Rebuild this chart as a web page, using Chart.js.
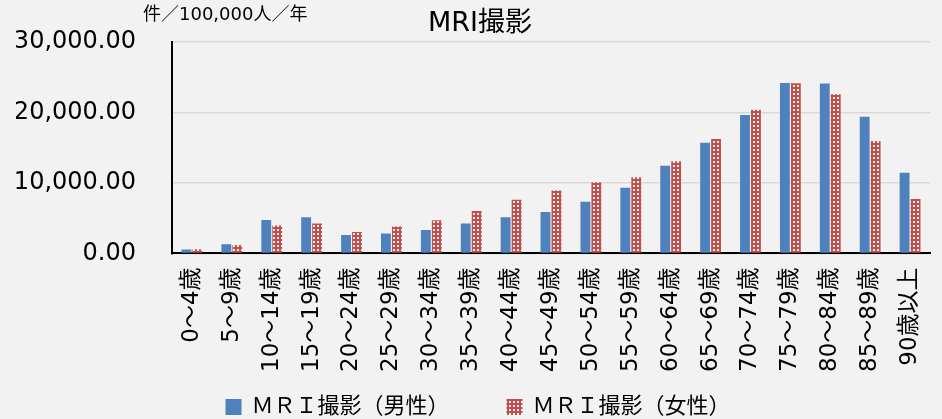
<!DOCTYPE html>
<html>
<head>
<meta charset="utf-8">
<script src="https://cdn.jsdelivr.net/npm/chart.js@4.4.0/dist/chart.umd.min.js"></script>
<style>
    body{margin:0;background:#f2f2f2;}
    canvas{display:block;}
</style>
</head>
<body>
<canvas id="myChart" width="942" height="419"></canvas>
<script>
const ageGroups=['0～4歳','5～9歳','10～14歳','15～19歳','20～24歳','25～29歳','30～34歳','35～39歳','40～44歳','45～49歳','50～54歳','55～59歳','60～64歳','65～69歳','70～74歳','75～79歳','80～84歳','85～89歳','90歳以上'];
const maleValues=[565,1310,4750,5130,2630,2820,3340,4240,5130,5880,7340,9320,12430,15720,19630,24200,24100,19390,11440];
const femaleValues=[610,1215,3950,4240,3050,3810,4700,6020,7630,8940,10110,10830,13080,16240,20380,24150,22600,15960,7710];
const maleLabel='ＭＲＩ撮影（男性）';
const femaleLabel='ＭＲＩ撮影（女性）';
const chartTitle='MRI撮影';
const unitLabel='件／100,000人／年';

const fontFamily="'DejaVu Sans', 'Noto Sans CJK JP', sans-serif";

// red bars have a small white dot grid
function dotPattern(){
    let c=document.createElement('canvas');
    c.width=4;
    c.height=4;
    let p=c.getContext('2d');
    p.fillStyle='#C0504D';
    p.fillRect(0,0,4,4);
    p.fillStyle='rgba(255,255,255,0.9)';
    p.fillRect(1,1,2,2);
    return p.createPattern(c,'repeat');
}

// title, unit text and legend drawn by hand (legend needs a wide gap between items)
const extrasPlugin={
    id:'extras',
    afterDraw(chart){
        let ctx=chart.ctx;
        ctx.save();
        ctx.fillStyle='#000';
        ctx.textBaseline='middle';

        ctx.font='27px '+fontFamily;
        ctx.textAlign='center';
        ctx.fillText(chartTitle,480,24);

        ctx.font='18px '+fontFamily;
        ctx.textAlign='left';
        ctx.fillText(unitLabel,143,15);

        ctx.font='22px '+fontFamily;
        let sets=chart.data.datasets;
        let gap=57;
        let widths=sets.map(ds=>26+ctx.measureText(ds.label).width);
        let total=widths.reduce((a,b)=>a+b,0)+gap*(sets.length-1);
        let x=478-total/2;
        let y=407;
        for(let i=0;i<sets.length;i++){
            ctx.fillStyle=sets[i].backgroundColor;
            ctx.fillRect(x,y-8,16,16);
            ctx.fillStyle='#000';
            ctx.fillText(sets[i].label,x+26,y);
            x+=widths[i]+gap;
        }
        ctx.restore();
    }
};

const ctx=document.getElementById('myChart').getContext('2d');
let chart=new Chart(ctx,{
    type:'bar',
    data:{
        labels:ageGroups,
        datasets:[{
            label:maleLabel,
            data:maleValues,
            backgroundColor:'#4F81BD',
            barPercentage:0.9,
            categoryPercentage:0.55
        },{
            label:femaleLabel,
            data:femaleValues,
            backgroundColor:dotPattern(),
            barPercentage:0.9,
            categoryPercentage:0.55
        }]
    },
    options:{
        responsive:false,
        maintainAspectRatio:false,
        animation:false,
        layout:{padding:{left:16,right:12,top:42,bottom:33}},
        plugins:{
            title:{display:false},
            legend:{display:false},
            tooltip:{enabled:false}
        },
        scales:{
            x:{
                grid:{display:false,drawTicks:false},
                border:{color:'#000',width:2},
                afterFit:function(s){
                    s.paddingRight=0;
                    s.paddingLeft=0;
                },
                ticks:{
                    color:'#000',
                    minRotation:90,
                    maxRotation:90,
                    autoSkip:false,
                    padding:14,
                    font:{family:fontFamily,size:23}
                }
            },
            y:{
                min:0,
                max:30000,
                grid:{color:'#d9d9d9',lineWidth:1.5,drawTicks:false},
                border:{color:'#000',width:2},
                afterFit:function(s){
                    // tick padding otherwise gets added above the top label too
                    s.width=156;
                    s.paddingTop=0;
                    s.paddingBottom=0;
                },
                ticks:{
                    stepSize:10000,
                    color:'#000',
                    padding:36,
                    font:{family:fontFamily,size:24},
                    callback:function(v){
                        return v.toLocaleString('en-US',{minimumFractionDigits:2,maximumFractionDigits:2});
                    }
                }
            }
        }
    },
    plugins:[extrasPlugin]
});
</script>
</body>
</html>
